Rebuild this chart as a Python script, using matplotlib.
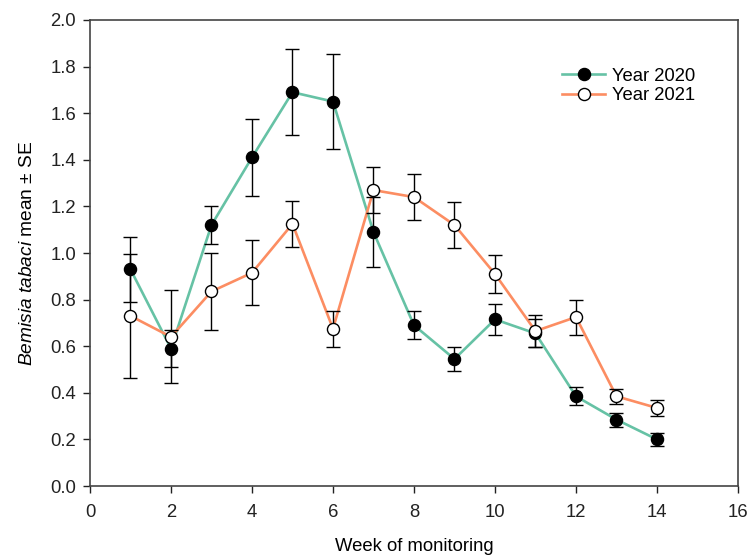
import matplotlib
matplotlib.use("Agg")
import matplotlib.pyplot as plt

plt.rcParams['font.family'] = ['Liberation Sans', 'DejaVu Sans']
plt.rcParams['mathtext.fontset'] = 'custom'
plt.rcParams['mathtext.rm'] = 'Liberation Sans'
plt.rcParams['mathtext.it'] = 'Liberation Sans:italic'

weeks = [1, 2, 3, 4, 5, 6, 7, 8, 9, 10, 11, 12, 13, 14]
mean_2020 = [0.93, 0.59, 1.12, 1.41, 1.69, 1.65, 1.09, 0.69, 0.545, 0.715, 0.655, 0.385, 0.285, 0.20]
se_2020 = [0.14, 0.08, 0.08, 0.165, 0.185, 0.205, 0.15, 0.06, 0.05, 0.065, 0.06, 0.038, 0.03, 0.027]
mean_2021 = [0.73, 0.64, 0.835, 0.915, 1.125, 0.675, 1.27, 1.24, 1.12, 0.91, 0.665, 0.725, 0.385, 0.335]
se_2021 = [0.265, 0.20, 0.165, 0.14, 0.10, 0.078, 0.10, 0.10, 0.097, 0.08, 0.07, 0.075, 0.033, 0.036]

x_ticks = [0, 2, 4, 6, 8, 10, 12, 14, 16]
y_ticks = [0.0, 0.2, 0.4, 0.6, 0.8, 1.0, 1.2, 1.4, 1.6, 1.8, 2.0]

green = '#66c2a5'
orange = '#fc8d62'

fig = plt.figure(figsize=(7.48, 5.6), dpi=100)
ax = fig.add_axes([0.1203, 0.1321, 0.8663, 0.8322])

# lines
ax.plot(weeks, mean_2020, color=green, lw=1.9, zorder=2)
ax.plot(weeks, mean_2021, color=orange, lw=1.9, zorder=2)
# error bars
ax.errorbar(weeks, mean_2020, yerr=se_2020, fmt='none', ecolor='black',
            elinewidth=1.0, capsize=5, capthick=1.0, zorder=3)
ax.errorbar(weeks, mean_2021, yerr=se_2021, fmt='none', ecolor='black',
            elinewidth=1.0, capsize=5, capthick=1.0, zorder=3)
# markers
ax.plot(weeks, mean_2020, ls='none', marker='o', ms=8.7, mfc='black',
        mec='black', mew=1.0, zorder=4)
ax.plot(weeks, mean_2021, ls='none', marker='o', ms=8.7, mfc='white',
        mec='black', mew=1.0, zorder=5)

# legend proxies
h1, = ax.plot([], [], color=green, lw=1.9, marker='o', ms=8.7, mfc='black', mec='black')
h2, = ax.plot([], [], color=orange, lw=1.9, marker='o', ms=8.7, mfc='white', mec='black')
ax.legend([h1, h2], ['Year 2020', 'Year 2021'], loc='upper right',
          bbox_to_anchor=(0.96, 0.933), frameon=False, fontsize=13.3,
          handlelength=2.3, handletextpad=0.4, labelspacing=0.12)

ax.set_xlim(0, 16)
ax.set_ylim(0, 2.0)
ax.set_xticks(x_ticks)
ax.set_yticks(y_ticks)
ax.set_yticklabels([f'{v:.1f}' for v in y_ticks])
ax.tick_params(direction='out', length=5, width=1.0, labelsize=13.3, colors='#222222')
ax.tick_params(axis='x', pad=8)
ax.tick_params(axis='y', pad=5)
for s in ax.spines.values():
    s.set_color('#444444')
    s.set_linewidth(1.2)

ax.set_xlabel('Week of monitoring', fontsize=13.3, labelpad=12)
ax.set_ylabel(r'$\it{Bemisia}$ $\it{tabaci}$ mean ± SE', fontsize=13.8, labelpad=10)

fig.savefig('out.png', dpi=100)
